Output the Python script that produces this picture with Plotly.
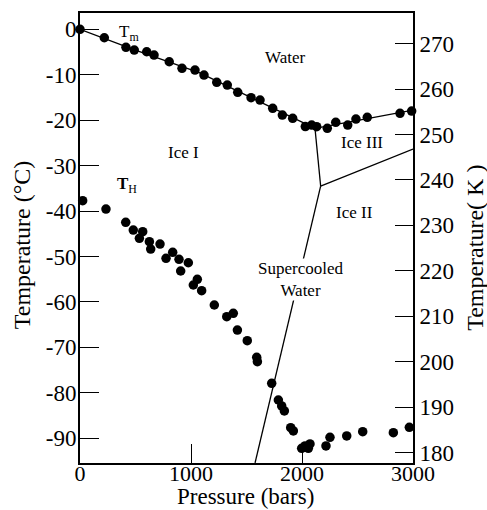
import plotly.graph_objects as go

# ---- data (pressure in bars, temperature in °C) ----
tm_p = [0, 219, 414, 489, 601, 667, 804, 919, 1036, 1117, 1232, 1327, 1421, 1541,
        1622, 1736, 1823, 1916, 2030, 2087, 2132, 2228, 2304, 2412, 2486, 2588, 2883, 2988]
tm_t = [0.0, -1.85, -3.96, -4.56, -4.93, -5.66, -7.13, -8.58, -8.96, -10.06, -11.66,
        -12.26, -13.86, -15.05, -15.56, -17.39, -18.86, -19.59, -21.4, -21.06, -21.43,
        -21.79, -20.47, -21.06, -19.74, -19.37, -18.49, -17.98]

th_p = [24, 234, 412, 480, 565, 535, 625, 721, 637, 835, 775, 892, 976, 907, 1057, 1021,
        1096, 1210, 1322, 1381, 1418, 1507, 1592, 1598, 1727, 1787, 1817, 1841, 1898, 1922,
        1997, 2027, 2072, 2057, 2216, 2252, 2403, 2547, 2823, 2967]
th_t = [-37.72, -39.55, -42.47, -44.17, -44.54, -46.0, -46.74, -47.25, -48.35, -49.08,
        -50.40, -50.62, -51.37, -53.19, -55.02, -56.27, -57.53, -60.67, -63.25, -62.50,
        -66.18, -68.53, -72.18, -73.15, -77.91, -81.58, -82.90, -84.0, -87.68, -88.40,
        -92.21, -91.70, -91.26, -92.21, -91.70, -89.79, -89.50, -88.56, -88.78, -87.59]

# phase boundaries
melt_p = [0, 480, 1080, 1540, 2117]
melt_t = [0.0, -4.4, -9.6, -15.0, -21.8]
w3_p = [2117, 2580, 3000]
w3_t = [-21.8, -19.6, -17.76]
i13_p = [2117, 2168]
i13_t = [-21.8, -34.49]
i32_p = [2168, 3000]
i32_t = [-34.49, -26.34]
sc_p = [2168, 1577]
sc_t = [-34.49, -95.45]

x_ticks = [0, 1000, 2000, 3000]
c_ticks = [0, -10, -20, -30, -40, -50, -60, -70, -80, -90]
c_labels = ["0", "-10", "-20", "-30", "-40", "-50", "-60", "-70", "-80", "-90"]
k_ticks = [180, 190, 200, 210, 220, 230, 240, 250, 260, 270]

FONT = "Liberation Serif"
c_range = [-95.45, 3.6]
k_range = [c_range[0] + 273.15, c_range[1] + 273.15]

fig = go.Figure()
line_style = dict(color="black", width=1.3)
for px_, pt_ in [(melt_p, melt_t), (w3_p, w3_t), (i13_p, i13_t), (i32_p, i32_t), (sc_p, sc_t)]:
    fig.add_trace(go.Scatter(x=px_, y=pt_, mode="lines", line=line_style,
                             showlegend=False, hoverinfo="skip"))

mk = dict(color="black", size=9.5)
fig.add_trace(go.Scatter(x=tm_p, y=tm_t, mode="markers", marker=mk, cliponaxis=False,
                         showlegend=False, name="Tm"))
fig.add_trace(go.Scatter(x=th_p, y=th_t, mode="markers", marker=mk, cliponaxis=False,
                         showlegend=False, name="TH"))
# dummy trace for right axis
fig.add_trace(go.Scatter(x=[None], y=[None], yaxis="y2", showlegend=False))

lab_font = dict(family=FONT, size=17, color="black")
labels = [
    ("T<sub>m</sub>", 440, -0.9),
    ("<b>T</b><sub>H</sub>", 420, -34.2),
    ("Water", 1847, -6.1),
    ("Ice I", 928, -27.2),
    ("Ice III", 2541, -24.8),
    ("Ice II", 2477, -40.4),
]
for txt, x, y in labels:
    fig.add_annotation(x=x, y=y, text=txt, showarrow=False, font=lab_font)
fig.add_annotation(x=1986, y=-55.1, text="Supercooled<br>Water", showarrow=False,
                   font=lab_font, bgcolor="white", borderpad=0)

tick_font = dict(family=FONT, size=23, color="black")
title_font = dict(family=FONT, size=24, color="black")

# axis titles (paper coordinates)
fig.add_annotation(xref="paper", yref="paper", x=0.4955, y=-0.1044, text="Pressure (bars)",
                   showarrow=False, font=dict(family=FONT, size=23, color="black"),
                   xanchor="center", yanchor="bottom", borderpad=0)
fig.add_annotation(xref="paper", yref="paper", x=-0.174, y=0.484, text="Temperature (°C)",
                   showarrow=False, font=title_font, textangle=-90,
                   xanchor="center", yanchor="middle")
fig.add_annotation(xref="paper", yref="paper", x=1.186, y=0.478, text="Temperature( K )",
                   showarrow=False, font=title_font, textangle=-90,
                   xanchor="center", yanchor="middle")

fig.update_layout(
    width=487, height=510,
    margin=dict(l=80, r=74, t=13, b=47),
    paper_bgcolor="white", plot_bgcolor="white",
    xaxis=dict(range=[0, 3000], tickvals=x_ticks, ticks="inside", ticklen=19,
               tickwidth=1.3, tickcolor="black", showline=True, linecolor="black",
               linewidth=2, mirror=True, showgrid=False, zeroline=False,
               tickfont=dict(family=FONT, size=22, color="black"),
               ticklabelstandoff=-10, automargin=False),
    yaxis=dict(range=c_range, tickvals=c_ticks, ticktext=c_labels, ticks="inside",
               ticklen=19, tickwidth=1.3, tickcolor="black", showline=True,
               linecolor="black", linewidth=2, showgrid=False, zeroline=False,
               tickfont=tick_font, ticklabelstandoff=-3, automargin=False),
    yaxis2=dict(range=k_range, tickvals=k_ticks, overlaying="y", side="right",
                ticks="inside", ticklen=18, tickwidth=1.3, tickcolor="black",
                showline=True, linecolor="black", linewidth=2, showgrid=False,
                zeroline=False, tickfont=tick_font, automargin=False),
)

fig.write_html("out.html")
